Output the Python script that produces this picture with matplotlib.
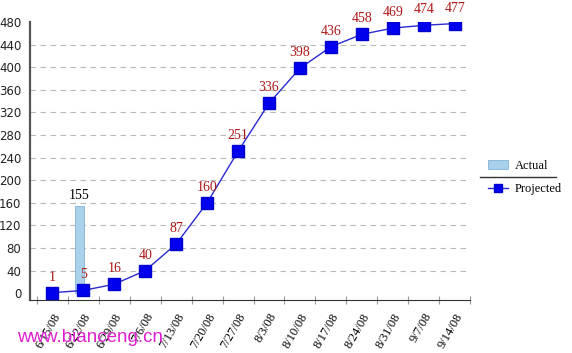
import matplotlib.pyplot as plt
from matplotlib.lines import Line2D

dates = ['6/15/08', '6/22/08', '6/29/08', '7/6/08', '7/13/08', '7/20/08', '7/27/08',
         '8/3/08', '8/10/08', '8/17/08', '8/24/08', '8/31/08', '9/7/08', '9/14/08']
projected = [1, 5, 16, 40, 87, 160, 251, 336, 398, 436, 458, 469, 474, 477]
actual_idx = [1]
actual = [155]
yticks = list(range(0, 481, 40))

serif = 'Liberation Serif'
fig = plt.figure(figsize=(5.72, 3.53), dpi=100)
ax = fig.add_axes([0.052, 0.150, 0.770, 0.788])

x = list(range(len(dates)))
bars = ax.bar([i - 0.12 for i in actual_idx], actual, width=0.28, color='#a9d1ec',
              edgecolor='#7fb3d8', linewidth=0.6, label='Actual', zorder=2)
line, = ax.plot(x, projected, color='#2a2ad0', lw=1, marker='s', ms=9,
                mfc='#0000ee', mec='#0000cc', label='Projected', zorder=3)

for i, v in zip(x, projected):
    ax.text(i, v + 16, str(v), ha='center', va='bottom', fontsize=10,
            family=serif, color='#b01818')
for i, v in zip(actual_idx, actual):
    ax.text(i - 0.12, v + 6, str(v), ha='center', va='bottom', fontsize=10,
            family=serif, color='black')

ax.set_xlim(-0.73, len(dates) - 0.5)
ax.set_ylim(-12, 480)
ax.set_yticks(yticks)
ax.set_yticklabels([str(t) for t in yticks], fontsize=8.5, color='#222222')
ax.tick_params(axis='y', length=0, pad=6)
for t in yticks[1:-1]:
    ax.axhline(t, color='#b8b8b8', lw=0.8, ls=(0, (5, 4)), zorder=1)

ax.set_xticks([i - 0.5 for i in range(len(dates) + 1)], minor=False)
ax.set_xticklabels([''] * (len(dates) + 1))
ax.tick_params(axis='x', which='major', direction='inout', length=6, color='#999999')
ax.set_xticks(x, minor=True)
ax.set_xticklabels(dates, minor=True, rotation=60, ha='right', va='top',
                   fontsize=9, family=serif, rotation_mode='anchor')
ax.tick_params(axis='x', which='minor', length=0, pad=8)

for s in ['top', 'right']:
    ax.spines[s].set_visible(False)
ax.spines['left'].set_color('#555555')
ax.spines['left'].set_linewidth(1.6)
ax.spines['bottom'].set_color('#333333')

ax.legend([bars, line], ['Actual', 'Projected'], loc='upper left',
          bbox_to_anchor=(0.843, 0.565), bbox_transform=fig.transFigure,
          frameon=False, prop={'family': serif, 'size': 9}, handlelength=1.6,
          labelspacing=0.9, borderpad=0, handletextpad=0.5, markerscale=0.7)
fig.add_artist(Line2D([0.84, 0.972], [0.499, 0.499], color='#333333', lw=1,
                      transform=fig.transFigure))

fig.text(0.03, 0.03, 'www.bianceng.cn', fontsize=13.5, color='#e020d0',
         family='Liberation Sans')

fig.savefig('out.png', dpi=100)
